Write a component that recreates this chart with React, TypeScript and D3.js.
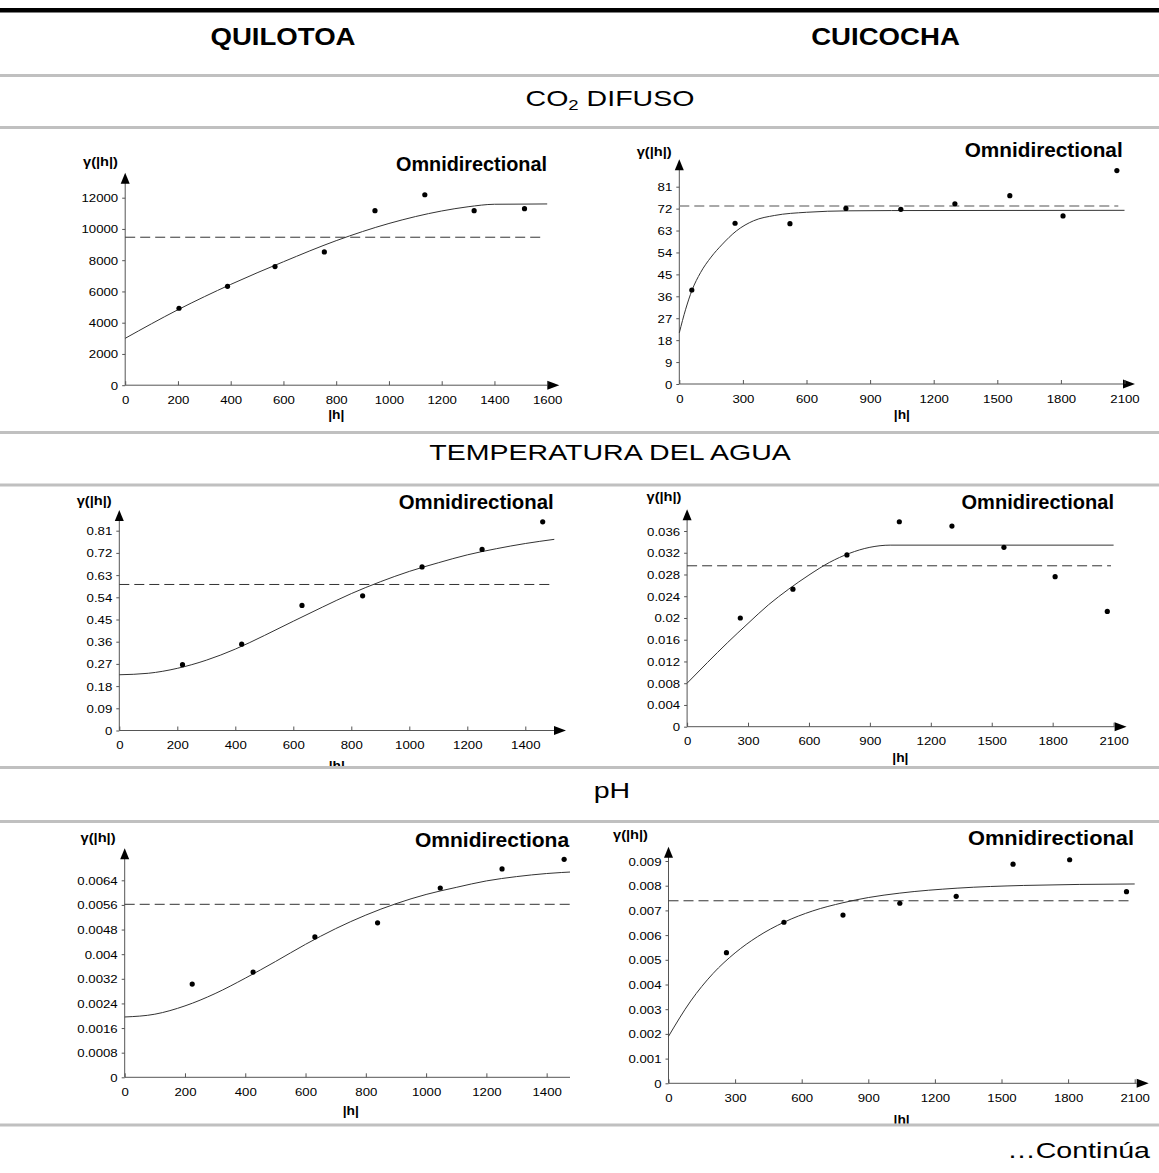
import React, { useEffect, useRef } from "react";
import * as d3 from "d3";

// CO2 difuso - Quilotoa
const co2QuiLags = [204, 388, 568, 755, 947, 1136, 1323, 1514];
const co2QuiGamma = [4925, 6330, 7590, 8530, 11170, 12190, 11170, 11300];
const co2QuiModelLags = [0, 200, 400, 600, 800, 1000, 1200, 1300, 1400, 1600];
const co2QuiModel = [3000, 4830, 6450, 7900, 9250, 10350, 11150, 11420, 11580, 11600];
const co2QuiVariance = 9470;
const co2QuiXTicks = ["0", "200", "400", "600", "800", "1000", "1200", "1400", "1600"];
const co2QuiYTicks = ["0", "2000", "4000", "6000", "8000", "10000", "12000"];

// CO2 difuso - Cuicocha
const co2CuiLags = [59, 263, 522, 786, 1045, 1300, 1559, 1810, 2064];
const co2CuiGamma = [38.6, 66.0, 65.8, 72.1, 71.7, 74.0, 77.3, 69.0, 87.6];
const co2CuiModelLags = [0, 30, 60, 100, 150, 200, 270, 350, 450, 600, 800, 1000, 2100];
const co2CuiModel = [21, 30.7, 38.5, 45.7, 52.1, 57.1, 62.9, 67, 69.2, 70.5, 71.1, 71.2, 71.3];
const co2CuiVariance = 73.1;
const co2CuiXTicks = ["0", "300", "600", "900", "1200", "1500", "1800", "2100"];
const co2CuiYTicks = ["0", "9", "18", "27", "36", "45", "54", "63", "72", "81"];

// Temperatura del agua - Quilotoa
const tempQuiLags = [218, 422, 630, 839, 1044, 1251, 1460];
const tempQuiGamma = [0.267, 0.35, 0.507, 0.546, 0.663, 0.734, 0.846];
const tempQuiModelLags = [0, 100, 200, 300, 400, 500, 600, 700, 800, 900, 1000, 1100, 1200, 1300, 1400, 1500];
const tempQuiModel = [0.226, 0.232, 0.252, 0.285, 0.33, 0.385, 0.443, 0.5, 0.555, 0.603, 0.645, 0.68, 0.712, 0.737, 0.758, 0.775];
const tempQuiVariance = 0.592;
const tempQuiXTicks = ["0", "200", "400", "600", "800", "1000", "1200", "1400"];
const tempQuiYTicks = ["0", "0.09", "0.18", "0.27", "0.36", "0.45", "0.54", "0.63", "0.72", "0.81"];

// Temperatura del agua - Cuicocha
const tempCuiLags = [262, 521, 787, 1045, 1304, 1560, 1812, 2069];
const tempCuiGamma = [0.02, 0.0253, 0.0316, 0.0377, 0.0369, 0.033, 0.0276, 0.0212];
const tempCuiModelLags = [0, 100, 200, 300, 400, 500, 600, 700, 800, 900, 1000, 2100];
const tempCuiModel = [0.008, 0.0118, 0.0155, 0.019, 0.0224, 0.0253, 0.0279, 0.0302, 0.0319, 0.033, 0.0334, 0.0334];
const tempCuiVariance = 0.0296;
const tempCuiXTicks = ["0", "300", "600", "900", "1200", "1500", "1800", "2100"];
const tempCuiYTicks = ["0", "0.004", "0.008", "0.012", "0.016", "0.02", "0.024", "0.028", "0.032", "0.036"];

// pH - Quilotoa
const phQuiLags = [224, 426, 631, 839, 1047, 1252, 1458];
const phQuiGamma = [0.00303, 0.00342, 0.00456, 0.00502, 0.00615, 0.00677, 0.00708];
const phQuiModelLags = [0, 100, 200, 300, 400, 500, 600, 700, 800, 900, 1000, 1100, 1200, 1300, 1400, 1500];
const phQuiModel = [0.00196, 0.00205, 0.00232, 0.00272, 0.00322, 0.00376, 0.00432, 0.00483, 0.00527, 0.00564, 0.00594, 0.00617, 0.00638, 0.00652, 0.00662, 0.00668];
const phQuiVariance = 0.00562;
const phQuiXTicks = ["0", "200", "400", "600", "800", "1000", "1200", "1400"];
const phQuiYTicks = ["0", "0.0008", "0.0016", "0.0024", "0.0032", "0.004", "0.0048", "0.0056", "0.0064"];

// pH - Cuicocha
const phCuiLags = [261, 520, 786, 1042, 1296, 1552, 1807, 2063];
const phCuiGamma = [0.00529, 0.00652, 0.00681, 0.00729, 0.00757, 0.00887, 0.00905, 0.00776];
const phCuiModelLags = [0, 100, 200, 300, 400, 520, 650, 786, 900, 1042, 1300, 1600, 2100];
const phCuiModel = [0.0019, 0.00333, 0.00444, 0.00528, 0.00593, 0.00652, 0.00698, 0.00731, 0.00752, 0.0077, 0.0079, 0.00801, 0.00807];
const phCuiVariance = 0.00739;
const phCuiXTicks = ["0", "300", "600", "900", "1200", "1500", "1800", "2100"];
const phCuiYTicks = ["0", "0.001", "0.002", "0.003", "0.004", "0.005", "0.006", "0.007", "0.008", "0.009"];

const columns = ["QUILOTOA", "CUICOCHA"];
const sections = ["DIFUSO", "TEMPERATURA DEL AGUA", "pH"];

const W = 1159;
const H = 1173;
const FONT = "'Liberation Sans', Arial, sans-serif";
const GRID = "#c0c0c0";

const panels = [
  {
    lags: co2QuiLags, gamma: co2QuiGamma, modelLags: co2QuiModelLags, model: co2QuiModel,
    variance: co2QuiVariance, xTicks: co2QuiXTicks, yTicks: co2QuiYTicks, xMax: 1600,
    x0: 125.2, x1: 547.2, y0: 385.2, y1: 197.7, xTip: 559.3, yTip: 172.7, dashEnd: 543,
    omni: { x: 547, y: 170.7, w: 151, anchor: "end" }, gammaPos: { x: 83, y: 166 }, hY: 419,
    clip: [0, 129, 580, 302], dashColor: "#333", dashWidth: 1,
  },
  {
    lags: co2CuiLags, gamma: co2CuiGamma, modelLags: co2CuiModelLags, model: co2CuiModel,
    variance: co2CuiVariance, xTicks: co2CuiXTicks, yTicks: co2CuiYTicks, xMax: 2100,
    x0: 679.3, x1: 1124.5, y0: 384, y1: 186.7, xTip: 1135, yTip: 159.3, dashEnd: 1118.3,
    omni: { x: 1122.7, y: 157.3, w: 158, anchor: "end" }, gammaPos: { x: 636.7, y: 156 }, hY: 419,
    clip: [580, 129, 579, 302], dashColor: "#8c8c8c", dashWidth: 1.6,
  },
  {
    lags: tempQuiLags, gamma: tempQuiGamma, modelLags: tempQuiModelLags, model: tempQuiModel,
    variance: tempQuiVariance, xTicks: tempQuiXTicks, yTicks: tempQuiYTicks, xMax: 1500,
    x0: 119.3, x1: 554.3, y0: 730.5, y1: 530.7, xTip: 566, yTip: 510, dashEnd: 551,
    omni: { x: 553.7, y: 509.3, w: 155, anchor: "end" }, gammaPos: { x: 76.7, y: 505 }, hY: 770,
    clip: [0, 486.5, 580, 279.5], dashColor: "#333", dashWidth: 1,
  },
  {
    lags: tempCuiLags, gamma: tempCuiGamma, modelLags: tempCuiModelLags, model: tempCuiModel,
    variance: tempCuiVariance, xTicks: tempCuiXTicks, yTicks: tempCuiYTicks, xMax: 2100,
    x0: 687.1, x1: 1113.6, y0: 726.7, y1: 531, xTip: 1126.6, yTip: 509.3, dashEnd: 1111,
    omni: { x: 1114, y: 509.3, w: 152.5, anchor: "end" }, gammaPos: { x: 646.5, y: 501 }, hY: 762,
    clip: [580, 486.5, 579, 279.5], dashColor: "#333", dashWidth: 1,
  },
  {
    lags: phQuiLags, gamma: phQuiGamma, modelLags: phQuiModelLags, model: phQuiModel,
    variance: phQuiVariance, xTicks: phQuiXTicks, yTicks: phQuiYTicks, xMax: 1500,
    x0: 124.7, x1: 576.8, y0: 1077.3, y1: 880.3, xTip: null, yTip: 848.3, dashEnd: 580,
    omni: { x: 415, y: 846.7, w: 160, anchor: "start" }, gammaPos: { x: 80.6, y: 842 }, hY: 1115,
    clip: [0, 823, 570, 300.5], dashColor: "#333", dashWidth: 1,
  },
  {
    lags: phCuiLags, gamma: phCuiGamma, modelLags: phCuiModelLags, model: phCuiModel,
    variance: phCuiVariance, xTicks: phCuiXTicks, yTicks: phCuiYTicks, xMax: 2100,
    x0: 668.5, x1: 1134.7, y0: 1083.3, y1: 861, xTip: 1148.7, yTip: 846.7, dashEnd: 1131,
    omni: { x: 1134, y: 845, w: 166, anchor: "end" }, gammaPos: { x: 613, y: 839 }, hY: 1124,
    clip: [580, 823, 579, 300.5], dashColor: "#333", dashWidth: 1,
  },
];

function drawPanel(svg, p, idx) {
  const yMax = +p.yTicks[p.yTicks.length - 1];
  const x = d3.scaleLinear().domain([0, p.xMax]).range([p.x0, p.x1]);
  const y = d3.scaleLinear().domain([0, yMax]).range([p.y0, p.y1]);

  const [cx, cy, cw, ch] = p.clip;
  svg.append("clipPath").attr("id", `cell${idx}`)
    .append("rect").attr("x", cx).attr("y", cy).attr("width", cw).attr("height", ch);
  const g = svg.append("g").attr("clip-path", `url(#cell${idx})`);

  // axes lines + arrows
  const xEnd = p.xTip == null ? 600 : p.xTip - 12;
  g.append("line").attr("x1", p.x0).attr("x2", xEnd).attr("y1", p.y0).attr("y2", p.y0)
    .attr("stroke", "#555").attr("stroke-width", 1);
  g.append("line").attr("x1", p.x0).attr("x2", p.x0).attr("y1", p.y0).attr("y2", p.yTip + 10)
    .attr("stroke", "#555").attr("stroke-width", 1);
  g.append("path")
    .attr("d", `M${p.x0},${p.yTip}L${p.x0 - 4.5},${p.yTip + 11}L${p.x0 + 4.5},${p.yTip + 11}Z`)
    .attr("fill", "#000");
  if (p.xTip != null) {
    g.append("path")
      .attr("d", `M${p.xTip},${p.y0}L${p.xTip - 12},${p.y0 - 4.5}L${p.xTip - 12},${p.y0 + 4.5}Z`)
      .attr("fill", "#000");
  }

  const yAxis = d3.axisLeft(y)
    .tickValues(p.yTicks.map(Number))
    .tickFormat((_, i) => p.yTicks[i])
    .tickSize(3);
  const gy = g.append("g").attr("transform", `translate(${p.x0},0)`).call(yAxis);
  gy.select(".domain").remove();
  gy.selectAll("line").attr("stroke", "#555");
  gy.selectAll("text")
    .attr("x", null).attr("dy", null)
    .attr("transform", "translate(-7,4) scale(1.15,1)")
    .attr("font-size", 11.5).attr("font-family", FONT).attr("fill", "#000");

  const xAxis = d3.axisBottom(x)
    .tickValues(p.xTicks.map(Number))
    .tickFormat((_, i) => p.xTicks[i])
    .tickSize(-4);
  const gx = g.append("g").attr("transform", `translate(0,${p.y0})`).call(xAxis);
  gx.select(".domain").remove();
  gx.selectAll("line").attr("stroke", "#555");
  gx.selectAll("text")
    .attr("y", null).attr("dy", null)
    .attr("transform", "translate(0,18.5) scale(1.15,1)")
    .attr("font-size", 11.5).attr("font-family", FONT).attr("fill", "#000");

  // sample variance
  g.append("line")
    .attr("x1", p.x0).attr("x2", p.dashEnd)
    .attr("y1", y(p.variance)).attr("y2", y(p.variance))
    .attr("stroke", p.dashColor).attr("stroke-width", p.dashWidth)
    .attr("stroke-dasharray", "10,5");

  // fitted model
  const modelPts = p.modelLags.map((h, i) => [h, p.model[i]]);
  const line = d3.line().x(d => x(d[0])).y(d => y(d[1])).curve(d3.curveMonotoneX);
  g.append("path").datum(modelPts).attr("d", line)
    .attr("fill", "none").attr("stroke", "#333").attr("stroke-width", 1);

  // experimental points
  g.selectAll("circle.pt")
    .data(p.lags.map((h, i) => [h, p.gamma[i]]))
    .enter().append("circle").attr("class", "pt")
    .attr("cx", d => x(d[0])).attr("cy", d => y(d[1])).attr("r", 2.6).attr("fill", "#000");

  // labels
  g.append("text")
    .attr("x", p.omni.x).attr("y", p.omni.y).attr("text-anchor", p.omni.anchor)
    .attr("font-family", FONT).attr("font-weight", "bold").attr("font-size", 19.5)
    .attr("textLength", p.omni.w).attr("lengthAdjust", "spacingAndGlyphs")
    .text("Omnidirectional");
  g.append("text")
    .attr("x", p.gammaPos.x).attr("y", p.gammaPos.y)
    .attr("font-family", FONT).attr("font-weight", "bold").attr("font-size", 12)
    .attr("textLength", 35).attr("lengthAdjust", "spacingAndGlyphs")
    .text("γ(|h|)");
  g.append("text")
    .attr("transform", `translate(${x(p.xMax / 2)},${p.hY}) scale(1.15,1)`)
    .attr("text-anchor", "middle")
    .attr("font-family", FONT).attr("font-weight", "bold").attr("font-size", 12)
    .text("|h|");
}

const App = () => {
  const ref = useRef(null);

  useEffect(() => {
    document.body.style.margin = "0";
    const svg = d3.select(ref.current);
    svg.selectAll("*").remove();

    svg.append("rect").attr("width", W).attr("height", H).attr("fill", "#fff");
    svg.append("rect").attr("x", 0).attr("y", 8).attr("width", W).attr("height", 4.5).attr("fill", "#000");
    [75.5, 127.5, 432.5, 485, 767.5, 821.5, 1125].forEach(yy => {
      svg.append("rect").attr("x", 0).attr("y", yy - 1.5).attr("width", W).attr("height", 3).attr("fill", GRID);
    });

    const head = (txt, cx, by, opts) => {
      const t = svg.append("text")
        .attr("transform", `translate(${cx},${by}) scale(${opts.sx},1)`)
        .attr("text-anchor", opts.anchor || "middle")
        .attr("font-family", FONT).attr("font-size", opts.size)
        .attr("font-weight", opts.bold ? "bold" : "normal")
        .attr("fill", "#000");
      if (txt) t.text(txt);
      return t;
    };
    head(columns[0], 283, 45, { sx: 1.2, size: 23, bold: true });
    head(columns[1], 885.5, 45, { sx: 1.2, size: 23, bold: true });

    const co2 = head(null, 610, 106, { sx: 1.28, size: 22.3 });
    co2.append("tspan").text("CO");
    co2.append("tspan").attr("font-size", 14.5).attr("dy", 4).text("2");
    co2.append("tspan").attr("dy", -4).text(" " + sections[0]);

    head(sections[1], 610, 460, { sx: 1.28, size: 22.3 });
    head(sections[2], 612, 798, { sx: 1.28, size: 22.3 });
    head("…Continúa", 1150, 1158, { sx: 1.28, size: 22.3, anchor: "end" });

    panels.forEach((p, i) => drawPanel(svg, p, i));
  }, []);

  return <svg ref={ref} width={W} height={H} style={{ display: "block" }} />;
};

export default App;
